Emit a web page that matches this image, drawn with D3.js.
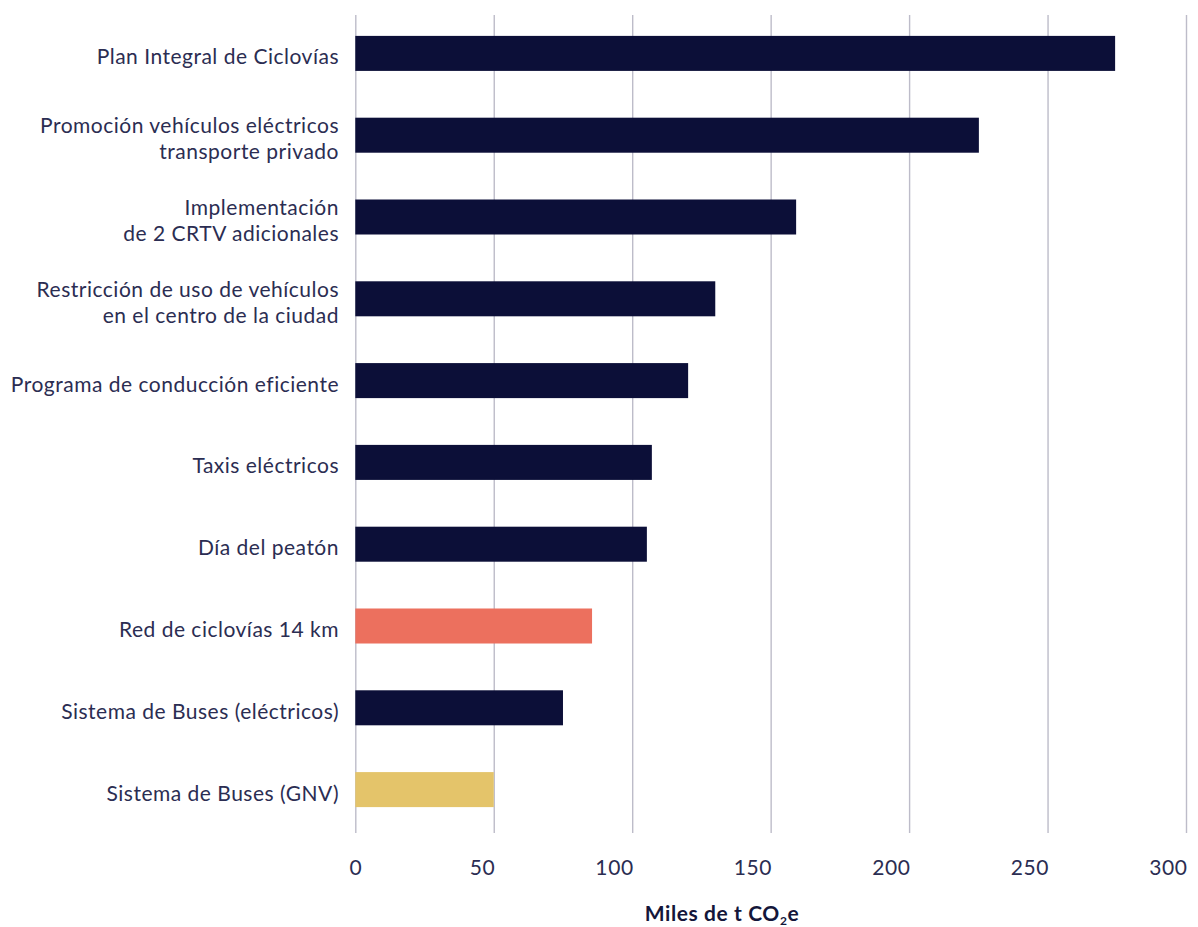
<!DOCTYPE html>
<html>
<head>
<meta charset="utf-8">
<script src="https://cdn.jsdelivr.net/npm/d3@7"></script>
<style>
  html, body { margin: 0; padding: 0; background: #ffffff; }
  svg { display: block; }
  .lbl { font-family: Lato, "Noto Sans", sans-serif; font-size: 21px; letter-spacing: 0.5px; fill: #2b2d52; }
  .tick text { font-family: Lato, "Noto Sans", sans-serif; font-size: 21px; letter-spacing: 0.6px; fill: #2b2d52; }
  .title { font-family: Lato, "Noto Sans", sans-serif; font-size: 21px; font-weight: 700; letter-spacing: 0.6px; fill: #14163a; }
</style>
</head>
<body>
<svg id="chart" width="1198" height="927"></svg>
<script>
// Emission reductions by mitigation measure (thousand t CO2e)
const categories = [
  "Plan Integral de Ciclovías",
  "Promoción vehículos eléctricos\ntransporte privado",
  "Implementación\nde 2 CRTV adicionales",
  "Restricción de uso de vehículos\nen el centro de la ciudad",
  "Programa de conducción eficiente",
  "Taxis eléctricos",
  "Día del peatón",
  "Red de ciclovías 14 km",
  "Sistema de Buses (eléctricos)",
  "Sistema de Buses (GNV)"
];
const values = [274.4, 225.2, 159.2, 130, 120.2, 107.1, 105.3, 85.5, 75, 50];
const groups = ["base", "base", "base", "base", "base", "base", "base", "ciclovia", "base", "gnv"];
const xTicks = [0, 50, 100, 150, 200, 250, 300];

const colors = { base: "#0c0f38", ciclovia: "#ec705e", gnv: "#e4c46a" };

const svg = d3.select("#chart");
const left = 355.3, right = 1186, gridTop = 15, gridBottom = 833;

const x = d3.scaleLinear().domain([0, 300]).range([left, right]);
const y = d3.scaleBand().domain(categories).range([12.5, 830.5])
  .paddingInner(0.572).paddingOuter(0.286);

// value axis with full-height gridlines
const xAxis = svg.append("g")
  .attr("transform", `translate(0,${gridBottom})`)
  .call(d3.axisBottom(x).tickValues(xTicks).tickFormat(d3.format("d"))
    .tickSize(-(gridBottom - gridTop)).tickPadding(27));
xAxis.select(".domain").remove();
xAxis.selectAll(".tick line").attr("stroke", "#bdbcc9").attr("stroke-width", 1.4);
xAxis.selectAll(".tick text")
  .attr("dy", "0.71em")
  .attr("text-anchor", d => d === 0 ? "middle" : "end")
  .attr("dx", d => d === 0 ? 0 : 1);

// bars
svg.append("g").selectAll("rect")
  .data(categories)
  .join("rect")
  .attr("x", x(0))
  .attr("y", d => y(d))
  .attr("height", y.bandwidth())
  .attr("width", (d, i) => x(values[i]) - x(0))
  .attr("fill", (d, i) => colors[groups[i]]);

// category labels, right aligned, possibly on two lines
const lab = svg.append("g").selectAll("text")
  .data(categories)
  .join("text")
  .attr("class", "lbl")
  .attr("text-anchor", "end")
  .attr("x", 339);
lab.each(function (d) {
  const lines = d.split("\n");
  const c = y(d) + y.bandwidth() / 2;
  const first = c + 11 - (lines.length - 1) * 12.75;
  d3.select(this).selectAll("tspan")
    .data(lines)
    .join("tspan")
    .attr("x", 339)
    .attr("y", (l, k) => first + k * 25.5)
    .text(l => l);
});

// axis title with subscript
const t = svg.append("text")
  .attr("class", "title")
  .attr("text-anchor", "middle")
  .attr("x", 722)
  .attr("y", 920.5);
t.append("tspan").text("Miles de t CO");
t.append("tspan").attr("font-size", "12px").attr("dy", 4).text("2");
t.append("tspan").attr("dy", -4).text("e");
</script>
</body>
</html>
